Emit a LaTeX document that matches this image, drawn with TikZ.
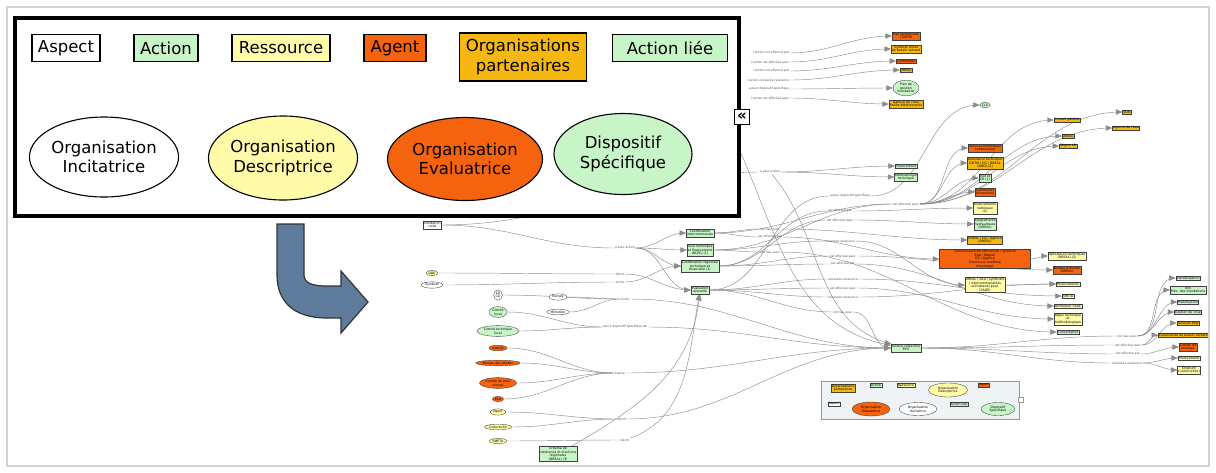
\documentclass[tikz,border=0pt]{standalone}
\usepackage{fontspec}
\setmainfont{DejaVu Sans}
\usepackage{tikz}
\usetikzlibrary{shapes.geometric, arrows, backgrounds}

\definecolor{actg}{HTML}{C8F5C8}
\definecolor{resy}{HTML}{FFFBA8}
\definecolor{agto}{HTML}{F5630F}
\definecolor{orgg}{HTML}{F6B810}
\definecolor{arrb}{HTML}{5F7B9C}
\definecolor{minib}{HTML}{EEF3F6}

\begin{document}
\begin{tikzpicture}[x=1pt, y=-1pt,
					>=triangle 45,
					gn/.style={align=center, inner sep=0.7pt, line width=0.35pt, draw=black!75, font=\fontsize{3.2}{3.6}\selectfont},
					asp/.style={gn, fill=white},
					act/.style={gn, fill=actg},
					res/.style={gn, fill=resy},
					agt/.style={gn, fill=agto},
					org/.style={gn, fill=orgg},
					incE/.style={gn, ellipse, fill=white},
					desE/.style={gn, ellipse, fill=resy},
					evaE/.style={gn, ellipse, fill=agto},
					dspE/.style={gn, ellipse, fill=actg},
					lbl/.style={inner sep=0.6pt, text=black!70, font=\fontsize{3}{3.4}\selectfont},
					ln/.style={-, draw=black!45, line width=0.45pt, out=0, in=180},
					ar/.style={ln, ->},
					lg/.style={draw, line width=1.1pt, inner sep=0pt, align=center, minimum height=27pt, font=\fontsize{16.5}{19.5}\selectfont},
					lgE/.style={lg, ellipse}]

\useasboundingbox (0,0) rectangle (1216,472);

% left column
\node[asp] (inond) at (432,225) {Inondation\\ / aléa};
\node[desE] (dde) at (432,273) {DDE};
\node[incE] (synd) at (432,285) {Syndicat};
\node[incE] (crcg) at (498,295) {CR\\ CG};
\node[incE] (europe) at (558,297) {Europe};
\node[incE] (minis) at (558,312) {Ministère};
\node[dspE] (cloc) at (498,312) {Comité\\ local};
\node[dspE] (ctec) at (498,331) {Comité technique\\ local};
\node[evaE] (ev1) at (498,348) {Comité};
\node[evaE] (ev2) at (498,363) {Bureau des études};
\node[evaE] (ev3) at (498,383) {Comité de suivi\\ annuel};
\node[evaE] (ev4) at (498,399) {Etat};
\node[desE] (agent) at (498,412) {Agent};
\node[desE] (collec) at (498,427) {Collectivité};
\node[desE] (smeta) at (498,441) {SMETA};
\node[act] (stratg) at (558,454) {Schéma de\\ cohérence et d'actions\\ régionales\\ (DREAL) (3)};

\node[lbl] (lAct1) at (625,248) {a pour action};
\node[lbl] (lDec1) at (620,274) {décrit};
\node[lbl] (lInc1) at (620,282) {incite};
\node[lbl] (lInc2) at (625,299) {incite};
\node[lbl] (lDsp1) at (625,327) {est le dispositif spécifique de};
\node[lbl] (lEva) at (620,373) {évalue};
\node[lbl] (lDec2) at (622,419) {décrit};
\node[lbl] (lDec3) at (625,440) {décrit};

% actions
\node[act] (coord) at (700,233) {Coordination\\ intercommunale};
\node[act] (suivi) at (700,250) {Suivi technique\\ et financement\\ (BLPC) (1)};
\node[act] (creg) at (700,266) {Coordination régionale\\ technique et\\ financière (1)};
\node[act] (evalu) at (700,290) {Evaluation\\ annuelle};

% top
\node[lbl, anchor=east] (t1) at (790,53) {l'action est effectué par};
\node[lbl, anchor=east] (t2) at (790,62) {l'action est effectué avec};
\node[lbl, anchor=east] (t3) at (790,71) {l'action est effectué par};
\node[lbl, anchor=east] (t4) at (790,80) {l'action nécessite ressource};
\node[lbl, anchor=east] (t5) at (790,89) {a pour dispositif spécifique};
\node[lbl, anchor=east] (t6) at (790,98) {l'action est effectué avec};
\node[agt] (o1) at (906,36) {Etat (préfecture)\\ / DDTM};
\node[org] (o2) at (906,49) {Syndicat mixte\\ de bassin versant};
\node[agt] (o3) at (906,61) {Communes};
\node[org] (o4) at (906,70) {DREAL};
\node[dspE] (o5) at (906,88) {Plan de\\ gestion\\ inondation};
\node[org] (o6) at (906,104) {Agence de l'eau\\ Rhône Méditerranée};

\node[lbl] (lAct2) at (770,172) {a pour action};
\coordinate (up1) at (735,140);
\node[act] (fin) at (906,166) {Financement};
\node[act] (meth) at (906,177) {Méthodologie\\ technique};
\node[lbl] (lDsp2) at (850,196) {a pour dispositif spécifique};
\node[dspE] (cle) at (985,105) {CLE};
\node[lbl] (lEp) at (906,204) {est effectué avec};
\node[org] (sdis) at (1127,112) {SDIS};
\node[org] (cg) at (1067,120) {Conseil général};
\node[org] (ag) at (1126,128) {Agence de l'eau};
\node[org] (dreal) at (1068,136) {DREAL};
\node[org] (reg) at (1068,146) {Région LR};

\node[agt] (r1) at (985,148) {Services techniques\\ communaux};
\node[org] (r2) at (985,163) {Assistance technique\\ DDTM / CG / DREAL\\ (AMO) (2)};
\node[act] (r3) at (985,178) {Etat et\\ CR (1)};
\node[agt] (r4) at (985,192) {Communes\\ (riveraines)};
\node[res] (r5) at (985,208) {Financements\\ nationaux\\ (2)};
\node[act] (r6) at (985,224) {Equipements\\ hydrauliques\\ (DREAL)};
\node[org] (r7) at (985,240) {DREAL / CG / Agence\\ (DREAL)};
\node[agt, minimum width=91pt] (r8) at (985,259) {Communauté de communes / syndicat\\ Etat / Région\\ CG / Agence\\ Commune (maîtrise\\ d'ouvrage)};
\node[res] (r8b) at (1067,256) {Opérateurs techniques\\ (DREAL) (2)};
\node[agt] (r10) at (1067,270) {Bureau d'études\\ (DREAL)};
\node[res] (r9) at (985,285) {DREAL / ASA / syndicats\\ / intercommunalités\\ animateurs pour\\ (SAGE)};
\node[res] (f1) at (1068,284) {Financements};
\node[res] (f2) at (1068,296) {SMETA};
\node[res] (f3) at (1068,306) {Animateur SAGE};
\node[res] (f4) at (1068,319) {Appui technique\\ et\\ méthodologique};
\node[act] (conc) at (1068,332) {Concertation};

\node[lbl] (m1) at (840,211) {est effectué par};
\node[lbl] (m2) at (840,220) {est effectué avec};
\node[lbl] (m3) at (770,229) {ont lieu avec};
\node[lbl] (m4) at (770,237) {est effectué par};
\node[lbl] (m5) at (840,241) {nécessite ressource};
\node[lbl] (m6) at (770,252) {ont lieu avec};
\node[lbl] (m7) at (843,256) {est effectué avec};
\node[lbl] (m8) at (843,264) {est effectué par};
\node[lbl] (m9) at (843,279) {nécessite ressource};
\node[lbl] (m10) at (843,288) {est effectué avec};
\node[lbl] (m11) at (843,297) {nécessite ressource};
\node[lbl] (m12) at (843,312) {ont lieu avec};

% hub and right column
\node[act] (pcs) at (906,348) {Actions (objectifs)\\ PCS};
\node[lbl] (n1) at (1127,336) {ont lieu avec};
\node[lbl] (n2) at (1128,345) {est effectué avec};
\node[lbl] (n3) at (1128,354) {est effectué par};
\node[lbl] (n4) at (1127,363) {nécessite ressource};
\node[act] (s1) at (1188,278) {Sensibilisation};
\node[act] (s2) at (1188,290) {Info\\ Prév. des inondations};
\node[act] (s3) at (1188,302) {Planification};
\node[act] (s4) at (1188,312) {Gestion de crise};
\node[org] (s5) at (1188,323) {Services Etat};
\node[org, anchor=west] (s6) at (1158,335) {Collectivités du bassin versant};
\node[agt] (s7) at (1188,347) {Comité de\\ pilotage};
\node[res] (s8) at (1189,358) {Financement};
\node[res] (s9) at (1189,370) {Emprunt\\ (collectivités)};

\begin{scope}[on background layer]
\draw 	(inond) edge[ln] (lAct1)
		(inond) edge[ln] (lAct2)
		(dde) edge[ln] (lDec1)
		(synd) edge[ln] (lInc1)
		(crcg) edge[ln] (lInc2)
		(europe) edge[ln] (lInc2)
		(minis) edge[ln] (lInc2)
		(cloc) edge[ln] (lDsp1)
		(ctec) edge[ln] (lDsp1)
		(ev1) edge[ln] (lEva)
		(ev2) edge[ln] (lEva)
		(ev3) edge[ln] (lEva)
		(ev4) edge[ln] (lEva)
		(agent) edge[ln] (lDec2)
		(collec) edge[ln] (lDec2)
		(smeta) edge[ln] (lDec3);
\draw 	(lAct1) edge[ar] (coord)
		(lAct1) edge[ar] (suivi)
		(lAct1) edge[ar] (creg)
		(lAct1) edge[ar] (evalu)
		(lAct2) edge[ar] (fin)
		(lAct2) edge[ar] (meth)
		(lAct2) edge[ar, out=-50, in=165] (pcs)
		(up1) edge[ar, out=-65, in=170] (pcs)
		(lDec1) edge[ar] (evalu)
		(lInc1) edge[ar] (creg)
		(lInc2) edge[ar] (pcs)
		(lDsp1) edge[ar] (pcs)
		(lEva) edge[ar] (pcs)
		(lDec2) edge[ar] (pcs)
		(lDec3) edge[ar, out=20, in=-100] (evalu)
		(stratg) edge[ar, out=30, in=-95] (evalu);
\draw 	(coord) edge[ln] (lEp)
		(suivi) edge[ln] (lEp)
		(creg) edge[ln] (m1)
		(creg) edge[ln] (m2)
		(coord) edge[ln] (m3)
		(coord) edge[ln] (m4)
		(suivi) edge[ln] (m5)
		(suivi) edge[ln] (m6)
		(creg) edge[ln] (m7)
		(creg) edge[ln] (m8)
		(evalu) edge[ln] (m9)
		(evalu) edge[ln] (m10)
		(evalu) edge[ln] (m11)
		(evalu) edge[ln] (m12)
		(evalu) edge[ln] (lDsp2);
\draw 	(lEp) edge[ar] (r1)
		(lEp) edge[ar] (r2)
		(lEp) edge[ar] (r3)
		(lEp) edge[ar] (r4)
		(lEp) edge[ar] (cg)
		(lEp) edge[ar] (dreal)
		(lEp) edge[ar] (reg)
		(lEp) edge[ar] (sdis)
		(lEp) edge[ar] (ag)
		(m1) edge[ar] (r5)
		(m2) edge[ar] (r6)
		(m3) edge[ar] (r7)
		(m4) edge[ar] (r8)
		(m5) edge[ar] (r9)
		(m6) edge[ar] (conc)
		(m7) edge[ar] (r10)
		(m8) edge[ar] (f3)
		(m9) edge[ar] (f2)
		(m10) edge[ar] (f4)
		(m11) edge[ar] (f1)
		(m12) edge[ar] (pcs)
		(lDsp2) edge[ar] (cle)
		(r8) edge[ar] (r8b)
		(r9) edge[ar] (f1);
\draw 	(t1) edge[ar] (o1)
		(t2) edge[ar] (o2)
		(t3) edge[ar] (o3)
		(t4) edge[ar] (o4)
		(t5) edge[ar] (o5)
		(t6) edge[ar] (o6);
\draw 	(pcs) edge[ln] (n1)
		(pcs) edge[ln] (n2)
		(pcs) edge[ln] (n3)
		(pcs) edge[ln] (n4)
		(n1) edge[ar] (s1)
		(n1) edge[ar] (s2)
		(n1) edge[ar] (s3)
		(n1) edge[ar] (s4)
		(n2) edge[ar] (s5)
		(n2) edge[ar] (s6)
		(n3) edge[ar] (s7)
		(n4) edge[ar] (s8)
		(n4) edge[ar] (s9);
\end{scope}

% small legend of the graph
\draw[draw=black!40, fill=minib, line width=0.5pt] (821,381) rectangle (1019,419);
\node[gn, draw=black!40, fill=white, minimum size=5pt, inner sep=0pt] (mbtn) at (1021,400) {};
\node[org] (ml1) at (843,388) {Organisations\\ partenaires};
\node[act] (ml2) at (876,385) {Action};
\node[res] (ml3) at (906,385) {Ressource};
\node[desE, minimum width=39pt, minimum height=14pt] (ml4) at (948,390) {Organisation\\ Descriptrice};
\node[agt] (ml5) at (984,385) {Agent};
\node[asp] (ml6) at (834,404) {Aspect};
\node[evaE, minimum width=38pt, minimum height=14pt] (ml7) at (871,409) {Organisation\\ Evaluatrice};
\node[incE, minimum width=38pt, minimum height=13pt] (ml8) at (918,409) {Organisation\\ Incitatrice};
\node[act] (ml9) at (959,404) {Action liée};
\node[dspE, minimum width=34pt, minimum height=13pt] (ml10) at (998,409) {Dispositif\\ Spécifique};

% frame
\draw[gray!35, line width=2pt] (7,7) rectangle (1209,466);

% big legend
\draw[line width=4pt, fill=white] (15,18) rectangle (739,216);
\node[lg, fill=white, minimum width=68pt] (aspect) at (66,48) {Aspect};
\node[lg, fill=actg, minimum width=64pt] (action) at (166,48) {Action};
\node[lg, fill=resy, minimum width=98pt] (ressource) at (281,48) {Ressource};
\node[lg, fill=agto, minimum width=62pt] (agent0) at (395,48) {Agent};
\node[lg, fill=orgg, minimum width=127pt, minimum height=48pt] (orgpart) at (523,57) {Organisations\\ partenaires};
\node[lg, fill=actg, minimum width=115pt] (actliee) at (670,48) {Action liée};
\node[lgE, fill=white, minimum width=141pt, minimum height=80pt] (oinc) at (104,157) {Organisation\\ Incitatrice};
\node[lgE, fill=resy, minimum width=146pt, minimum height=84pt] (odesc) at (283,158) {Organisation\\ Descriptrice};
\node[lgE, fill=agto, minimum width=155pt, minimum height=83pt] (oeva) at (465,159) {Organisation\\ Evaluatrice};
\node[lgE, fill=actg, minimum width=138pt, minimum height=81pt] (odsp) at (623,154) {Dispositif\\ Spécifique};
\node[draw, line width=1pt, fill=white, minimum size=15pt, inner sep=0pt, font=\fontsize{15}{15}\selectfont\bfseries] (btn) at (742,117) {«};

% curved arrow
\draw[fill=arrb, draw=black!80, line width=1.2pt] (277,224) -- (304,224) -- (304,275)
	.. controls (304,283) and (312,286) .. (327,286) -- (341,286) -- (341,271) -- (368,302)
	-- (341,333) -- (341,318) -- (327,318) .. controls (292,318) and (277,300) .. (277,275) -- cycle;
\end{tikzpicture}
\end{document}
